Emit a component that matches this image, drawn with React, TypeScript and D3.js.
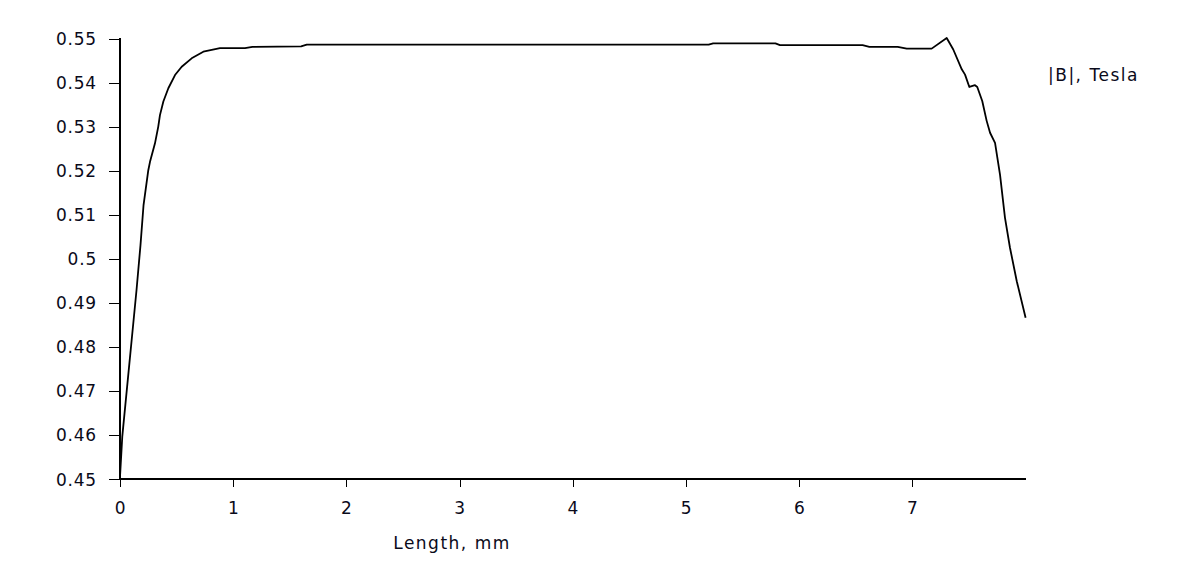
import React from "react";
import * as d3 from "d3";

const lengthMm = [
  0, 0.02, 0.146, 0.181, 0.208, 0.25, 0.265, 0.309, 0.338, 0.353, 0.383, 0.427, 0.486,
  0.545, 0.633, 0.736, 0.81, 0.883, 1.104, 1.17, 1.6, 1.65, 5.2, 5.24, 5.79, 5.83, 6.56,
  6.62, 6.87, 6.95, 7.17, 7.303, 7.361, 7.436, 7.465, 7.503, 7.553, 7.573, 7.617, 7.656,
  7.686, 7.73, 7.774, 7.818, 7.862, 7.922, 8.0,
];
const fieldT = [
  0.4505, 0.4596, 0.4929, 0.5031, 0.5122, 0.5201, 0.522, 0.5262, 0.53, 0.5326, 0.5357,
  0.5387, 0.5417, 0.5436, 0.5455, 0.547, 0.5474, 0.5478, 0.5478, 0.5481, 0.5482, 0.5486,
  0.5486, 0.5489, 0.5489, 0.5485, 0.5485, 0.5481, 0.5481, 0.5477, 0.5477, 0.5501, 0.5475,
  0.543, 0.5418, 0.539, 0.5394, 0.539, 0.5358, 0.5313, 0.5286, 0.5263, 0.5191, 0.5093,
  0.5025, 0.4949, 0.4866,
];
const xTicks = [0, 1, 2, 3, 4, 5, 6, 7];
const yTicks = [0.45, 0.46, 0.47, 0.48, 0.49, 0.5, 0.51, 0.52, 0.53, 0.54, 0.55];
const xTitle = "Length, mm";
const seriesName = "|B|, Tesla";

export default function App() {
  const W = 1181;
  const H = 561;
  const x = d3.scaleLinear().domain([0, 8]).range([120, 1025.6]);
  const y = d3.scaleLinear().domain([0.45, 0.55]).range([479, 38.5]);
  const pts: [number, number][] = lengthMm.map((d, i) => [d, fieldT[i]]);
  const line = d3
    .line<[number, number]>()
    .x((d) => x(d[0]))
    .y((d) => y(d[1]));
  const base = {
    fontFamily: "'DejaVu Sans', Verdana, sans-serif",
    fontSize: 17,
    fill: "#0a0a1a",
  } as const;
  const numFont = { ...base, letterSpacing: "0.8px" };
  const labFont = { ...base, letterSpacing: "1.5px" };
  const fmt = (v: number) => String(+v.toFixed(2));
  return (
    <svg
      width={W}
      height={H}
      style={{ position: "absolute", left: 0, top: 0, background: "#fff" }}
    >
      <rect x={0} y={0} width={W} height={H} fill="#fff" />
      {yTicks.map((t) => (
        <g key={"y" + t}>
          <line x1={109} x2={120} y1={Math.round(y(t)) + 0.5} y2={Math.round(y(t)) + 0.5} stroke="#000" strokeWidth={1} />
          <text x={97} y={y(t) + 6.5} textAnchor="end" {...numFont}>
            {fmt(t)}
          </text>
        </g>
      ))}
      {xTicks.map((t) => (
        <g key={"x" + t}>
          <line x1={Math.round(x(t)) + 0.5} x2={Math.round(x(t)) + 0.5} y1={479} y2={487} stroke="#000" strokeWidth={1} />
          <text x={x(t) + 0.5} y={514} textAnchor="middle" {...numFont}>
            {t}
          </text>
        </g>
      ))}
      <line x1={120} x2={120} y1={38} y2={480} stroke="#000" strokeWidth={2} />
      <line x1={119} x2={1026} y1={479} y2={479} stroke="#000" strokeWidth={2} />
      <path d={line(pts) || ""} fill="none" stroke="#000" strokeWidth={1.8} strokeLinejoin="round" />
      <text x={452} y={549} textAnchor="middle" {...labFont}>
        {xTitle}
      </text>
      <text x={1048} y={81} {...labFont}>
        {seriesName}
      </text>
    </svg>
  );
}
